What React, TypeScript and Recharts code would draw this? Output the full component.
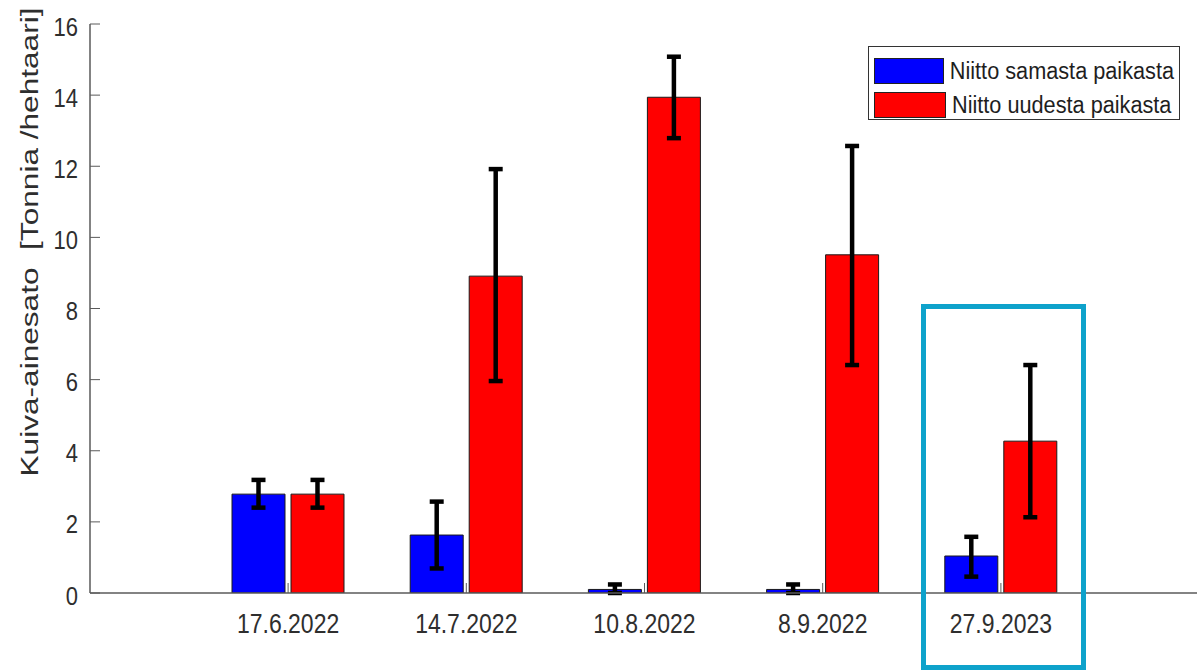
import React from 'react';
import { BarChart, Bar, XAxis, YAxis, ErrorBar, Legend } from 'recharts';

// ---- data ----
const categories = ['17.6.2022', '14.7.2022', '10.8.2022', '8.9.2022', '27.9.2023'];
const seriesNames = ['Niitto samasta paikasta', 'Niitto uudesta paikasta'];
const sameValues = [2.78, 1.63, 0.1, 0.1, 1.04];
const sameErrors: [number, number][] = [
  [0.38, 0.4],
  [0.94, 0.94],
  [0.1, 0.14],
  [0.1, 0.14],
  [0.58, 0.54],
];
const newValues = [2.78, 8.91, 13.94, 9.51, 4.27];
const newErrors: [number, number][] = [
  [0.38, 0.4],
  [2.95, 3.01],
  [1.15, 1.14],
  [3.1, 3.06],
  [2.14, 2.14],
];
const yTicks = [0, 2, 4, 6, 8, 10, 12, 14, 16];
const yLabel = 'Kuiva-ainesato  [Tonnia /hehtaari]';

// ---- styles ----
const FONT = '"Liberation Sans", Arial, Helvetica, sans-serif';
const BLUE = '#0000ff';
const RED = '#ff0000';
const TEXT = '#2e2e2e';
const AXIS = '#5a5a5a';
const seriesColors = [BLUE, RED];

const data = categories.map((c, i) => ({
  date: c,
  same: sameValues[i],
  sameErr: sameErrors[i],
  fresh: newValues[i],
  freshErr: newErrors[i],
}));

const XTick = (props: any) => {
  const { x, y, payload } = props;
  return (
    <g>
      <line x1={x} x2={x} y1={y} y2={y - 10} stroke={AXIS} strokeWidth={1} />
      <text
        transform={`translate(${x},${y + 40}) scale(1,1.2)`}
        textAnchor="middle"
        fontSize={23}
        fontFamily={FONT}
        fill={TEXT}
      >
        {payload.value}
      </text>
    </g>
  );
};

const YTick = (props: any) => {
  const { x, y, payload } = props;
  return (
    <g>
      <line x1={x} x2={x + 10} y1={y} y2={y} stroke={AXIS} strokeWidth={1} />
      <text
        transform={`translate(${x - 12},${y + 11.5}) scale(1,1.2)`}
        textAnchor="end"
        fontSize={22}
        fontFamily={FONT}
        fill={TEXT}
      >
        {payload.value}
      </text>
    </g>
  );
};

const YLabel = () => (
  <text
    transform="translate(38,242) rotate(-90)"
    textAnchor="middle"
    fontSize={23}
    fontFamily={FONT}
    fill={TEXT}
    textLength={469}
    lengthAdjust="spacingAndGlyphs"
    style={{ whiteSpace: 'pre' }}
  >
    {yLabel}
  </text>
);

const renderLegend = () => (
  <div
    style={{
      boxSizing: 'border-box',
      width: 312,
      height: 74,
      border: '1px solid #333',
      background: '#fff',
      padding: '7px 5px',
      fontFamily: FONT,
      fontSize: 21.7,
      color: '#1e1e1e',
    }}
  >
    {seriesNames.map((n, i) => (
      <div key={n} style={{ display: 'flex', alignItems: 'center', height: 34 }}>
        <div
          style={{
            boxSizing: 'border-box',
            width: 72,
            height: 26,
            background: seriesColors[i],
            border: '1px solid #222',
            marginRight: 6,
          }}
        />
        <span style={{ whiteSpace: 'nowrap', display: 'inline-block', transform: 'scaleY(1.08)' }}>{n}</span>
      </div>
    ))}
  </div>
);

export default function App() {
  return (
    <div style={{ position: 'fixed', left: 0, top: 0, width: 1201, height: 671, background: '#fff' }}>
      <BarChart
        width={1201}
        height={671}
        data={data}
        margin={{ top: 24, right: 4, bottom: 38, left: 0 }}
        barSize={53}
        barGap={6}
      >
        <XAxis
          dataKey="date"
          height={40}
          padding={{ left: 109, right: 107 }}
          axisLine={{ stroke: AXIS, strokeWidth: 1.5 }}
          tickLine={false}
          tickSize={0}
          tickMargin={0}
          tick={<XTick />}
          interval={0}
        />
        <YAxis
          width={90}
          domain={[0, 16]}
          ticks={yTicks}
          allowDataOverflow
          axisLine={{ stroke: AXIS, strokeWidth: 1.5 }}
          tickLine={false}
          tickSize={0}
          tickMargin={0}
          tick={<YTick />}
          label={{ content: <YLabel /> }}
        />
        <Legend
          layout="vertical"
          align="center"
          verticalAlign="middle"
          content={renderLegend}
          wrapperStyle={{ position: 'absolute', left: 868, top: 46, width: 312, height: 74 }}
        />
        <Bar dataKey="same" name={seriesNames[0]} fill={BLUE} stroke="#1a1a1a" strokeWidth={1} isAnimationActive={false}>
          <ErrorBar dataKey="sameErr" width={7} strokeWidth={4.5} stroke="#000" direction="y" />
        </Bar>
        <Bar dataKey="fresh" name={seriesNames[1]} fill={RED} stroke="#1a1a1a" strokeWidth={1} isAnimationActive={false}>
          <ErrorBar dataKey="freshErr" width={7} strokeWidth={4.5} stroke="#000" direction="y" />
        </Bar>
      </BarChart>
      <div
        style={{
          position: 'absolute',
          left: 921,
          top: 304,
          width: 165,
          height: 366,
          boxSizing: 'border-box',
          border: '5px solid #0ea2cb',
          pointerEvents: 'none',
        }}
      />
    </div>
  );
}
